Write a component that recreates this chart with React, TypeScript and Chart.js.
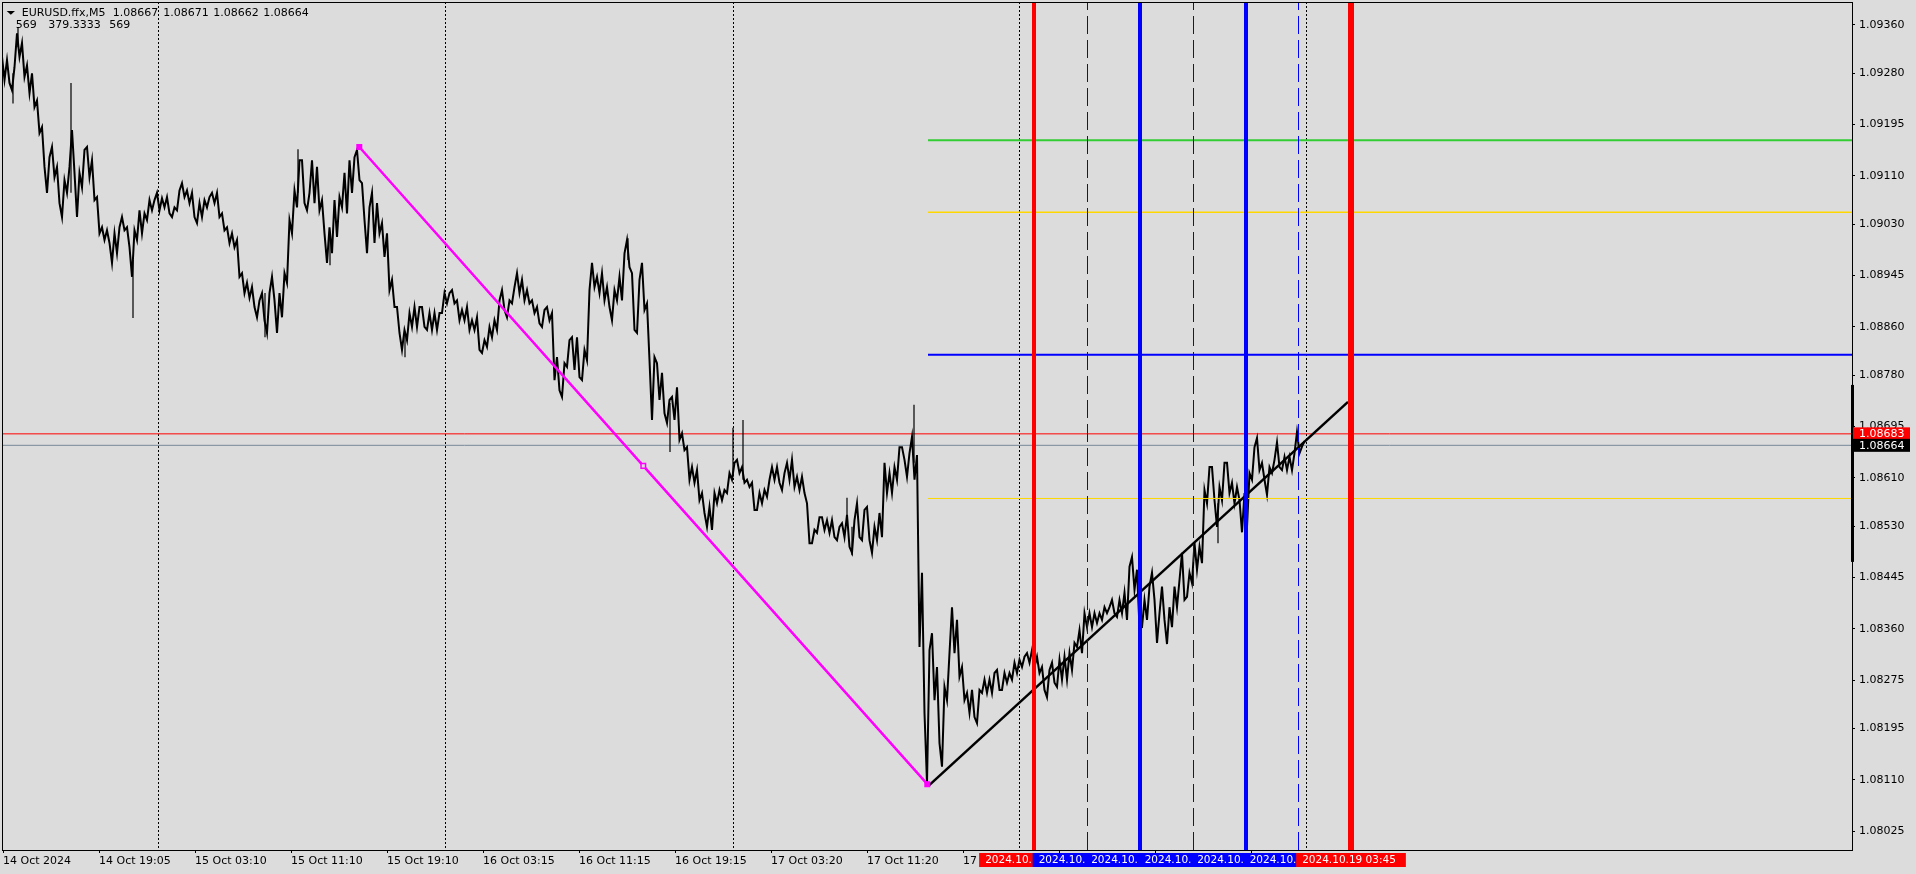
import React, { useEffect, useRef } from 'react';
import { Chart, registerables } from 'chart.js';

Chart.register(...registerables);

const FONT = 'DejaVu Sans';
const BG = '#DCDCDC';

// ---- axis ranges (bar index = one M5 bar; price) ----
const X_MIN = 0;
const X_MAX = 1850;
const Y_MIN = 1.07994;
const Y_MAX = 1.09398;

// ---- price axis tick labels ----
const Y_TICK_LABELS = [
  '1.09360', '1.09280', '1.09195', '1.09110', '1.09030', '1.08945', '1.08860', '1.08780', '1.08695',
  '1.08610', '1.08530', '1.08445', '1.08360', '1.08275', '1.08195', '1.08110', '1.08025',
];

// ---- time axis ticks (bar index) and labels ----
const X_TICK_BARS = [1, 97, 193, 289, 385, 481, 577, 673, 769, 865, 961, 1057, 1153, 1249];
const X_TICK_LABELS = [
  '14 Oct 2024', '14 Oct 19:05', '15 Oct 03:10', '15 Oct 11:10', '15 Oct 19:10', '16 Oct 03:15',
  '16 Oct 11:15', '16 Oct 19:15', '17 Oct 03:20', '17 Oct 11:20', '17 Oct 19:25', '18 Oct 03:25',
  '18 Oct 11:30', '18 Oct 19:30',
];

// chart grid (dotted verticals), bar index
const GRID_BARS = [156, 443, 731, 1017, 1304];

// ---- price series: high / low of each group of 5 M5 bars ----
const BIN_FIRST_BAR = 1;
const BIN_STEP = 5;
const HIGHS = [
  1.09307, 1.09302, 1.09290, 1.09346, 1.09330, 1.09293, 1.09280, 1.09235, 1.09191, 1.09141,
  1.09158, 1.09125, 1.09103, 1.09125, 1.09186, 1.09115, 1.09153, 1.09158, 1.09136, 1.09075,
  1.09025, 1.09020, 1.09015, 1.09025, 1.09042, 1.09025, 1.09020, 1.09053, 1.09048, 1.09070,
  1.09070, 1.09082, 1.09073, 1.09075, 1.09058, 1.09086, 1.09098, 1.09086, 1.09082, 1.09065,
  1.09070, 1.09075, 1.09082, 1.09082, 1.09048, 1.09025, 1.09015, 1.09004, 1.08949, 1.08933,
  1.08926, 1.08904, 1.08916, 1.08916, 1.08943, 1.08916, 1.08949, 1.09037, 1.09086, 1.09136,
  1.09136, 1.09082, 1.09136, 1.09125, 1.09070, 1.09025, 1.09070, 1.09075, 1.09115, 1.09136,
  1.09141, 1.09153, 1.09098, 1.09058, 1.09082, 1.09065, 1.09032, 1.09015, 1.08938, 1.08893,
  1.08855, 1.08883, 1.08893, 1.08893, 1.08893, 1.08883, 1.08883, 1.08883, 1.08916, 1.08916,
  1.08921, 1.08904, 1.08888, 1.08893, 1.08871, 1.08876, 1.08838, 1.08860, 1.08871, 1.08904,
  1.08921, 1.08904, 1.08926, 1.08949, 1.08938, 1.08921, 1.08904, 1.08893, 1.08888, 1.08893,
  1.08883, 1.08810, 1.08800, 1.08838, 1.08843, 1.08843, 1.08822, 1.08921, 1.08966, 1.08943,
  1.08949, 1.08926, 1.08921, 1.08943, 1.08982, 1.09004, 1.08949, 1.08938, 1.08966, 1.08899,
  1.08810, 1.08800, 1.08784, 1.08739, 1.08744, 1.08760, 1.08684, 1.08661, 1.08628, 1.08623,
  1.08585, 1.08562, 1.08585, 1.08590, 1.08590, 1.08618, 1.08635, 1.08640, 1.08628, 1.08607,
  1.08602, 1.08585, 1.08590, 1.08607, 1.08628, 1.08628, 1.08618, 1.08635, 1.08640, 1.08612,
  1.08612, 1.08568, 1.08524, 1.08545, 1.08545, 1.08540, 1.08540, 1.08529, 1.08535, 1.08549,
  1.08540, 1.08568, 1.08557, 1.08562, 1.08529, 1.08552, 1.08635, 1.08618, 1.08628, 1.08661,
  1.08661, 1.08651, 1.08678, 1.08648, 1.08453, 1.08325, 1.08353, 1.08297, 1.08264, 1.08320,
  1.08396, 1.08375, 1.08297, 1.08254, 1.08259, 1.08259, 1.08276, 1.08276, 1.08287, 1.08292,
  1.08287, 1.08287, 1.08304, 1.08309, 1.08314, 1.08320, 1.08325, 1.08314, 1.08297, 1.08292,
  1.08304, 1.08309, 1.08314, 1.08320, 1.08337, 1.08358, 1.08386, 1.08386, 1.08386, 1.08386,
  1.08396, 1.08396, 1.08408, 1.08408, 1.08420, 1.08463, 1.08479, 1.08458, 1.08408, 1.08430,
  1.08453, 1.08386, 1.08430, 1.08396, 1.08430, 1.08441, 1.08486, 1.08453, 1.08502, 1.08496,
  1.08590, 1.08628, 1.08628, 1.08595, 1.08635, 1.08635, 1.08602, 1.08595, 1.08585, 1.08618,
  1.08661, 1.08676, 1.08635, 1.08628, 1.08640, 1.08669, 1.08645, 1.08645, 1.08651, 1.08686,
  1.08671,
];
const LOWS = [
  1.09269, 1.09264, 1.09252, 1.09307, 1.09274, 1.09247, 1.09224, 1.09181, 1.09125, 1.09082,
  1.09108, 1.09065, 1.09042, 1.09082, 1.09115, 1.09042, 1.09091, 1.09108, 1.09070, 1.09015,
  1.09004, 1.08999, 1.08966, 1.08982, 1.09020, 1.08992, 1.08943, 1.09004, 1.09015, 1.09037,
  1.09053, 1.09053, 1.09058, 1.09048, 1.09042, 1.09053, 1.09075, 1.09065, 1.09042, 1.09032,
  1.09042, 1.09058, 1.09065, 1.09042, 1.09020, 1.08999, 1.08992, 1.08943, 1.08916, 1.08908,
  1.08893, 1.08876, 1.08871, 1.08850, 1.08904, 1.08850, 1.08876, 1.08933, 1.09015, 1.09058,
  1.09065, 1.09053, 1.09065, 1.09053, 1.09015, 1.08966, 1.08982, 1.09009, 1.09058, 1.09048,
  1.09082, 1.09103, 1.09037, 1.08982, 1.08999, 1.09015, 1.08976, 1.08921, 1.08893, 1.08850,
  1.08822, 1.08838, 1.08860, 1.08860, 1.08860, 1.08855, 1.08855, 1.08855, 1.08883, 1.08899,
  1.08899, 1.08871, 1.08871, 1.08855, 1.08855, 1.08822, 1.08817, 1.08827, 1.08843, 1.08855,
  1.08888, 1.08876, 1.08899, 1.08916, 1.08904, 1.08899, 1.08883, 1.08866, 1.08860, 1.08871,
  1.08772, 1.08755, 1.08744, 1.08794, 1.08789, 1.08777, 1.08772, 1.08805, 1.08926, 1.08916,
  1.08904, 1.08893, 1.08871, 1.08904, 1.08904, 1.08959, 1.08855, 1.08850, 1.08888, 1.08805,
  1.08706, 1.08739, 1.08717, 1.08701, 1.08706, 1.08673, 1.08656, 1.08607, 1.08602, 1.08573,
  1.08552, 1.08529, 1.08524, 1.08568, 1.08573, 1.08585, 1.08607, 1.08618, 1.08602, 1.08595,
  1.08557, 1.08557, 1.08568, 1.08579, 1.08607, 1.08602, 1.08590, 1.08607, 1.08595, 1.08590,
  1.08585, 1.08502, 1.08502, 1.08519, 1.08524, 1.08519, 1.08512, 1.08507, 1.08512, 1.08496,
  1.08486, 1.08512, 1.08507, 1.08507, 1.08486, 1.08507, 1.08512, 1.08585, 1.08585, 1.08607,
  1.08640, 1.08612, 1.08607, 1.08330, 1.08221, 1.08105, 1.08242, 1.08171, 1.08132, 1.08242,
  1.08320, 1.08281, 1.08242, 1.08221, 1.08214, 1.08204, 1.08254, 1.08254, 1.08254, 1.08259,
  1.08259, 1.08271, 1.08276, 1.08287, 1.08297, 1.08304, 1.08297, 1.08287, 1.08259, 1.08247,
  1.08271, 1.08264, 1.08276, 1.08276, 1.08292, 1.08330, 1.08320, 1.08363, 1.08363, 1.08370,
  1.08375, 1.08386, 1.08386, 1.08380, 1.08386, 1.08375, 1.08425, 1.08362, 1.08363, 1.08375,
  1.08408, 1.08337, 1.08375, 1.08335, 1.08363, 1.08396, 1.08408, 1.08413, 1.08436, 1.08458,
  1.08469, 1.08568, 1.08573, 1.08529, 1.08573, 1.08585, 1.08568, 1.08573, 1.08520, 1.08529,
  1.08607, 1.08623, 1.08607, 1.08582, 1.08618, 1.08628, 1.08623, 1.08623, 1.08623, 1.08651,
  1.08662,
];

// single-bar spikes (wicks): bar index, high, low
const WICK_BARS = [11, 16, 69, 131, 263, 296, 328, 403, 626, 668, 731, 741, 845, 850, 912, 1138, 1216, 1243];
const WICK_HIGHS = [1.09280, 1.09356, 1.09264, 1.08971, 1.08916, 1.09154, 1.09004, 1.08850, 1.09007, 1.08734, 1.08693, 1.08706, 1.08577, 1.08529, 1.08731, 1.08425, 1.08568, 1.08562];
const WICK_LOWS = [1.09230, 1.09323, 1.09082, 1.08875, 1.08843, 1.09082, 1.08962, 1.08810, 1.08971, 1.08653, 1.08612, 1.08607, 1.08535, 1.08482, 1.08635, 1.08362, 1.08502, 1.08520];

// ask / bid
const ASK_PRICE = 1.08683;
const BID_PRICE = 1.08664;

// horizontal line objects
const HLINE_START_BAR = 926;
const HLINE_PRICES = [1.09169, 1.09050, 1.08814, 1.08576];
const HLINE_STYLES = [
  { color: '#32CD32', width: 2 },
  { color: '#FFD700', width: 1.5 },
  { color: '#0000FF', width: 2 },
  { color: '#FFD700', width: 1 },
];

// magenta trend line (start, middle, end)
const MAGENTA_BARS = [357.3, 641.3, 925.3];
const MAGENTA_PRICES = [1.09158, 1.08630, 1.08103];

// black trend line
const TREND_BARS = [927, 1346];
const TREND_PRICES = [1.08101, 1.08736];

// vertical line objects
const VLINE_BARS = [1032, 1085.5, 1138, 1191.5, 1244, 1296.5, 1349];
const VLINE_TIMES = [
  '2024.10.18 01:20', '2024.10.18 05:45', '2024.10.18 10:10', '2024.10.18 14:35',
  '2024.10.18 19:00', '2024.10.18 23:20', '2024.10.19 03:45',
];
const VLINE_STYLES = [
  { color: '#FF0000', width: 4, dash: [] as number[] },
  { color: '#0000FF', width: 1, dash: [18, 6] },
  { color: '#0000FF', width: 4, dash: [] as number[] },
  { color: '#0000FF', width: 1, dash: [18, 6] },
  { color: '#0000FF', width: 4, dash: [] as number[] },
  { color: '#0000FF', width: 1, dash: [18, 6] },
  { color: '#FF0000', width: 6, dash: [] as number[] },
];

// price-scale range bar on the axis
const SCALE_BAR_PRICES = [1.08764, 1.08471];

// header
const HEADER_1 = ['EURUSD.ffx,M5', '1.08667', '1.08671', '1.08662', '1.08664'];
const HEADER_1_X = [21.7, 112.7, 163.3, 213.3, 263.3];
const HEADER_2 = ['569', '379.3333', '569'];
const HEADER_2_X = [15.7, 48.3, 109.3];

export default function App() {
  const ref = useRef<HTMLCanvasElement>(null);

  useEffect(() => {
    const canvas = ref.current;
    if (!canvas) return;

    // price path: within each 5-bar group go from one extreme to the other, toward the next group
    const pricePath: any[] = [];
    HIGHS.forEach((h, i) => {
      const l = LOWS[i];
      const x = BIN_FIRST_BAR + i * BIN_STEP;
      const mid = (h + l) / 2;
      const nextMid = i + 1 < HIGHS.length ? (HIGHS[i + 1] + LOWS[i + 1]) / 2 : mid;
      const up = nextMid >= mid;
      pricePath.push({ x: x - 1, y: up ? l : h }, { x: x + 1.5, y: up ? h : l });
    });
    const wickData: any[] = [];
    WICK_BARS.forEach((b, i) => {
      wickData.push({ x: b, y: WICK_HIGHS[i] }, { x: b, y: WICK_LOWS[i] }, { x: b, y: null });
    });

    const line = (data: any[], color: string, width: number, order: number, extra: any = {}) => ({
      type: 'line',
      data,
      borderColor: color,
      backgroundColor: color,
      borderWidth: width,
      pointRadius: 0,
      fill: false,
      order,
      spanGaps: false,
      ...extra,
    });

    const datasets: any[] = [
      line([{ x: X_MIN, y: ASK_PRICE }, { x: X_MAX, y: ASK_PRICE }], '#FF0000', 1, 30),
      line([{ x: X_MIN, y: BID_PRICE }, { x: X_MAX, y: BID_PRICE }], '#778899', 1, 29),
      line(pricePath, '#000000', 2, 20, { borderJoinStyle: 'miter' }),
      line(wickData, '#000000', 1.2, 19),
    ];
    HLINE_PRICES.forEach((p, i) => {
      datasets.push(line([{ x: HLINE_START_BAR, y: p }, { x: X_MAX, y: p }], HLINE_STYLES[i].color, HLINE_STYLES[i].width, 10));
    });
    datasets.push(line(MAGENTA_BARS.map((b, i) => ({ x: b, y: MAGENTA_PRICES[i] })), '#FF00FF', 2.5, 6, {
      pointRadius: 3.2,
      pointStyle: 'rect',
      pointBorderColor: '#FF00FF',
      pointBorderWidth: 1.5,
      pointBackgroundColor: ['#FF00FF', BG, '#FF00FF'],
    }));
    datasets.push(line(TREND_BARS.map((b, i) => ({ x: b, y: TREND_PRICES[i] })), '#000000', 2.5, 7));
    VLINE_BARS.forEach((b, i) => {
      const s = VLINE_STYLES[i];
      datasets.push(line([{ x: b, y: Y_MIN }, { x: b, y: Y_MAX }], s.color, s.width, 4, { borderDash: s.dash }));
    });

    const mt4: any = {
      id: 'mt4',
      beforeDraw(chart: any) {
        const ctx = chart.ctx;
        ctx.save();
        ctx.fillStyle = BG;
        ctx.fillRect(0, 0, chart.width, chart.height);
        ctx.restore();
      },
      beforeDatasetsDraw(chart: any) {
        const { ctx, chartArea: a, scales } = chart;
        ctx.save();
        ctx.strokeStyle = '#000';
        ctx.lineWidth = 1;
        ctx.setLineDash([2, 2]);
        GRID_BARS.forEach((b) => {
          const px = Math.round(scales.x.getPixelForValue(b)) + 0.5;
          ctx.beginPath();
          ctx.moveTo(px, a.top);
          ctx.lineTo(px, a.bottom);
          ctx.stroke();
        });
        ctx.restore();
      },
      afterDraw(chart: any) {
        const { ctx, chartArea: a, scales } = chart;
        const xs = scales.x;
        const ys = scales.y;
        ctx.save();
        // frame
        ctx.strokeStyle = '#000';
        ctx.lineWidth = 1;
        ctx.setLineDash([]);
        ctx.strokeRect(a.left + 0.5, a.top + 0.5, a.right - a.left, a.bottom - a.top);

        // price scale bar
        const yb0 = ys.getPixelForValue(SCALE_BAR_PRICES[0]);
        const yb1 = ys.getPixelForValue(SCALE_BAR_PRICES[1]);
        ctx.fillStyle = '#000';
        ctx.fillRect(a.right - 1, yb0, 3, yb1 - yb0);

        // ask / bid labels on the price axis
        ctx.font = `11px "${FONT}"`;
        ctx.textBaseline = 'middle';
        ctx.textAlign = 'left';
        const priceBox = (p: number, bg: string) => {
          const py = ys.getPixelForValue(p);
          ctx.fillStyle = bg;
          ctx.fillRect(a.right + 1, py - 6.5, 57, 13);
          ctx.fillStyle = '#FFFFFF';
          ctx.fillText(p.toFixed(5), a.right + 7, py + 0.5);
        };
        priceBox(ASK_PRICE, '#FF0000');
        priceBox(BID_PRICE, '#000000');

        // vertical line labels on the time axis
        ctx.font = `10.5px "${FONT}"`;
        VLINE_BARS.forEach((b, i) => {
          const px = xs.getPixelForValue(b);
          const txt = VLINE_TIMES[i];
          const w = ctx.measureText(txt).width + 16;
          const left = px - w / 2;
          ctx.fillStyle = VLINE_STYLES[i].color;
          ctx.fillRect(left, a.bottom + 3, w, 14);
          ctx.fillStyle = '#FFFFFF';
          ctx.fillText(txt, left + 6, a.bottom + 10.5);
        });

        // header
        ctx.font = `11px "${FONT}"`;
        ctx.fillStyle = '#000';
        ctx.beginPath();
        ctx.moveTo(6.7, 11);
        ctx.lineTo(15, 11);
        ctx.lineTo(10.85, 14.8);
        ctx.closePath();
        ctx.fill();
        HEADER_1.forEach((t, i) => ctx.fillText(t, HEADER_1_X[i], 13));
        HEADER_2.forEach((t, i) => ctx.fillText(t, HEADER_2_X[i], 25.5));
        ctx.restore();
      },
    };

    const chart = new Chart(canvas, {
      type: 'line',
      data: { datasets },
      options: {
        responsive: false,
        maintainAspectRatio: false,
        animation: false,
        devicePixelRatio: 1,
        events: [],
        layout: { autoPadding: false, padding: { left: 2, top: 2, right: 0, bottom: 0 } },
        plugins: {
          legend: { display: false },
          tooltip: { enabled: false },
          title: { display: false },
        },
        elements: { point: { radius: 0 }, line: { tension: 0 } },
        scales: {
          x: {
            type: 'linear',
            position: 'bottom',
            min: X_MIN,
            max: X_MAX,
            afterBuildTicks: (s: any) => {
              s.ticks = X_TICK_BARS.map((v) => ({ value: v }));
            },
            afterFit: (s: any) => {
              s.height = 24;
              s.paddingLeft = 0;
              s.paddingRight = 0;
              s.paddingTop = 0;
              s.paddingBottom = 0;
            },
            ticks: {
              autoSkip: false,
              maxRotation: 0,
              minRotation: 0,
              align: 'start',
              padding: 2,
              color: '#000',
              font: { family: FONT, size: 11 },
              callback: (_v: any, i: number) => X_TICK_LABELS[i],
            },
            grid: { drawOnChartArea: false, drawTicks: true, tickLength: 3, color: '#000' },
            border: { display: true, color: '#000', width: 1 },
          },
          y: {
            type: 'linear',
            position: 'right',
            min: Y_MIN,
            max: Y_MAX,
            afterBuildTicks: (s: any) => {
              s.ticks = Y_TICK_LABELS.map((t) => ({ value: parseFloat(t) }));
            },
            afterFit: (s: any) => {
              s.width = 64;
              s.paddingLeft = 0;
              s.paddingRight = 0;
              s.paddingTop = 0;
              s.paddingBottom = 0;
            },
            ticks: {
              padding: 4,
              color: '#000',
              font: { family: FONT, size: 11 },
              callback: (_v: any, i: number) => Y_TICK_LABELS[i],
            },
            grid: { drawOnChartArea: false, drawTicks: true, tickLength: 3, color: '#000' },
            border: { display: true, color: '#000', width: 1 },
          },
        },
      } as any,
      plugins: [mt4],
    } as any);

    return () => chart.destroy();
  }, []);

  return (
    <div style={{ position: 'fixed', left: 0, top: 0, width: 1916, height: 874, background: BG }}>
      <canvas ref={ref} width={1916} height={874} style={{ display: 'block', width: 1916, height: 874 }} />
    </div>
  );
}
